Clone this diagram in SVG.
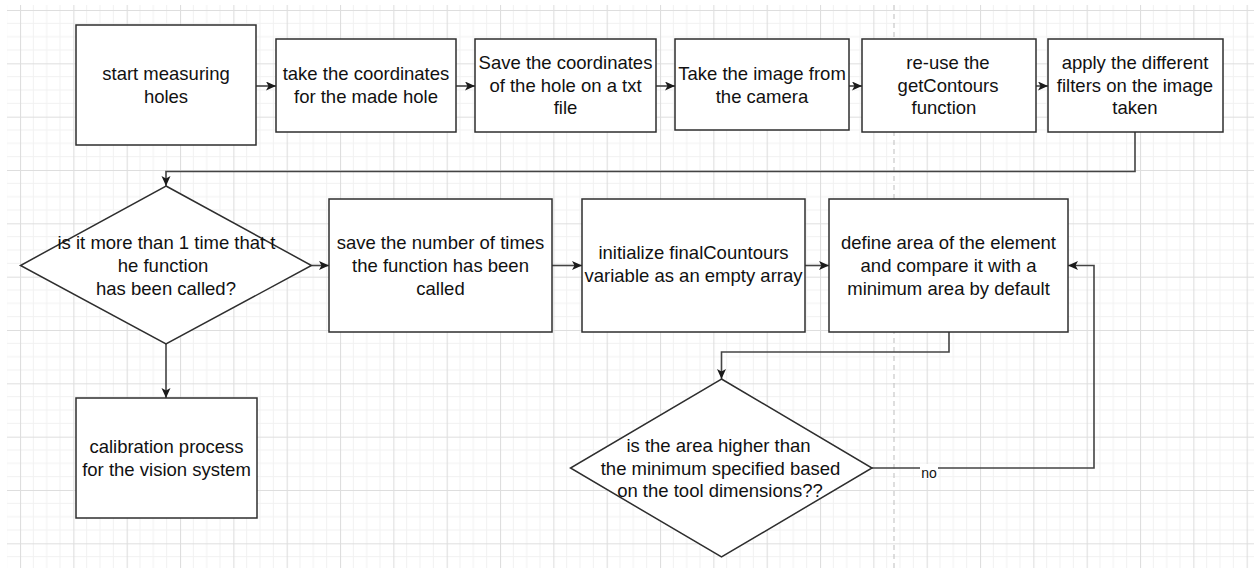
<svg xmlns="http://www.w3.org/2000/svg" width="1259" height="568" viewBox="0 0 1259 568">
<defs>
<pattern id="grid" patternUnits="userSpaceOnUse" x="20" y="10" width="53.333" height="53.333">
<path d="M13.333 0V53.333M26.667 0V53.333M40 0V53.333M0 13.333H53.333M0 26.667H53.333M0 40H53.333" stroke="#f1f1f1" stroke-width="1" fill="none"/>
<path d="M0.5 0V53.333M0 0.5H53.333" stroke="#dedede" stroke-width="1.2" fill="none"/>
</pattern>
<marker id="arr" markerUnits="userSpaceOnUse" markerWidth="12" markerHeight="10" refX="10" refY="4.5" orient="auto">
<path d="M0,0 L10,4.5 L0,9 L2.5,4.5 z" fill="#1a1a1a"/>
</marker>
<style>
.box{fill:#fff;stroke:#2e2e2e;stroke-width:1.5}
.t{font-family:"Liberation Sans",Arial,Helvetica,sans-serif;font-size:18.5px;fill:#111;text-anchor:middle}
.c{fill:none;stroke:#444;stroke-width:1.6}
.lbl{font-family:"Liberation Sans",Arial,Helvetica,sans-serif;font-size:14px;fill:#111;text-anchor:middle}
</style>
</defs>
<rect x="0" y="0" width="1259" height="568" fill="#fff"/>
<rect x="7" y="5" width="1247" height="563" fill="url(#grid)"/>
<line x1="894" y1="5" x2="894" y2="568" stroke="#bdbdbd" stroke-width="1" stroke-dasharray="5 4"/>

<g id="connectors">
<path class="c" marker-end="url(#arr)" d="M256 86H276"/>
<path class="c" marker-end="url(#arr)" d="M456 86H475"/>
<path class="c" marker-end="url(#arr)" d="M656 86H675"/>
<path class="c" marker-end="url(#arr)" d="M849 86H862"/>
<path class="c" marker-end="url(#arr)" d="M1036 86H1048"/>
<path class="c" marker-end="url(#arr)" d="M1135 132V171.5H166V186"/>
<path class="c" marker-end="url(#arr)" d="M311.5 265.5H329"/>
<path class="c" marker-end="url(#arr)" d="M552 265.5H582"/>
<path class="c" marker-end="url(#arr)" d="M805 265.5H829"/>
<path class="c" marker-end="url(#arr)" d="M949 332V352H721.5V379"/>
<path class="c" marker-end="url(#arr)" d="M872 468H1094V265.5H1068"/>
<path class="c" marker-end="url(#arr)" d="M166 344V398"/>
<rect x="920" y="464" width="18" height="15" fill="#fff"/>
<text class="lbl" x="929" y="477.5">no</text>
</g>

<g id="n1"><rect class="box" x="76" y="25" width="180" height="120"/>
<text class="t" x="166" y="80">start measuring</text><text class="t" x="166" y="103">holes</text></g>

<g id="n2"><rect class="box" x="276" y="39" width="180" height="93"/>
<text class="t" x="366" y="80">take the coordinates</text><text class="t" x="366" y="103">for the made hole</text></g>

<g id="n3"><rect class="box" x="475" y="39" width="181" height="93"/>
<text class="t" x="565.5" y="69">Save the coordinates</text><text class="t" x="565.5" y="92">of the hole on a txt</text><text class="t" x="565.5" y="114">file</text></g>

<g id="n4"><rect class="box" x="675" y="39" width="174" height="91"/>
<text class="t" x="762" y="80">Take the image from</text><text class="t" x="762" y="103">the camera</text></g>

<g id="n5"><rect class="box" x="862" y="39" width="174" height="93"/>
<text class="t" x="948" y="69">re-use the</text><text class="t" x="948" y="92">getContours</text><text class="t" x="944" y="114">function</text></g>

<g id="n6"><rect class="box" x="1048" y="39" width="175" height="93"/>
<text class="t" x="1135" y="69">apply the different</text><text class="t" x="1135" y="92">filters on the image</text><text class="t" x="1135" y="114">taken</text></g>

<g id="d1"><path class="box" d="M166 186L311.5 265.5L166 344L20.5 265.5Z"/>
<text class="t" x="166.5" y="248.5">is it more than 1 time that t</text><text class="t" x="163" y="271.5">he function</text><text class="t" x="166" y="294.5">has been called?</text></g>

<g id="n7"><rect class="box" x="329" y="199" width="223" height="133"/>
<text class="t" x="440.5" y="248.5">save the number of times</text><text class="t" x="440.5" y="271.5">the function has been</text><text class="t" x="440.5" y="294.5">called</text></g>

<g id="n8"><rect class="box" x="582" y="199" width="223" height="133"/>
<text class="t" x="693.5" y="259">initialize finalCountours</text><text class="t" x="693.5" y="282">variable as an empty array</text></g>

<g id="n9"><rect class="box" x="829" y="199" width="239" height="133"/>
<text class="t" x="948.5" y="248.5">define area of the element</text><text class="t" x="948.5" y="271.5">and compare it with a</text><text class="t" x="948.5" y="294.5">minimum area by default</text></g>

<g id="n10"><rect class="box" x="76" y="398" width="181" height="120"/>
<text class="t" x="166.5" y="453">calibration process</text><text class="t" x="166.5" y="476">for the vision system</text></g>

<g id="d2"><path class="box" d="M721.5 379L872 468L721.5 557L570.5 468Z"/>
<text class="t" x="718.5" y="451.5">is the area higher than</text><text class="t" x="720.5" y="474.5">the minimum specified based</text><text class="t" x="720" y="497">on the tool dimensions??</text></g>
</svg>
